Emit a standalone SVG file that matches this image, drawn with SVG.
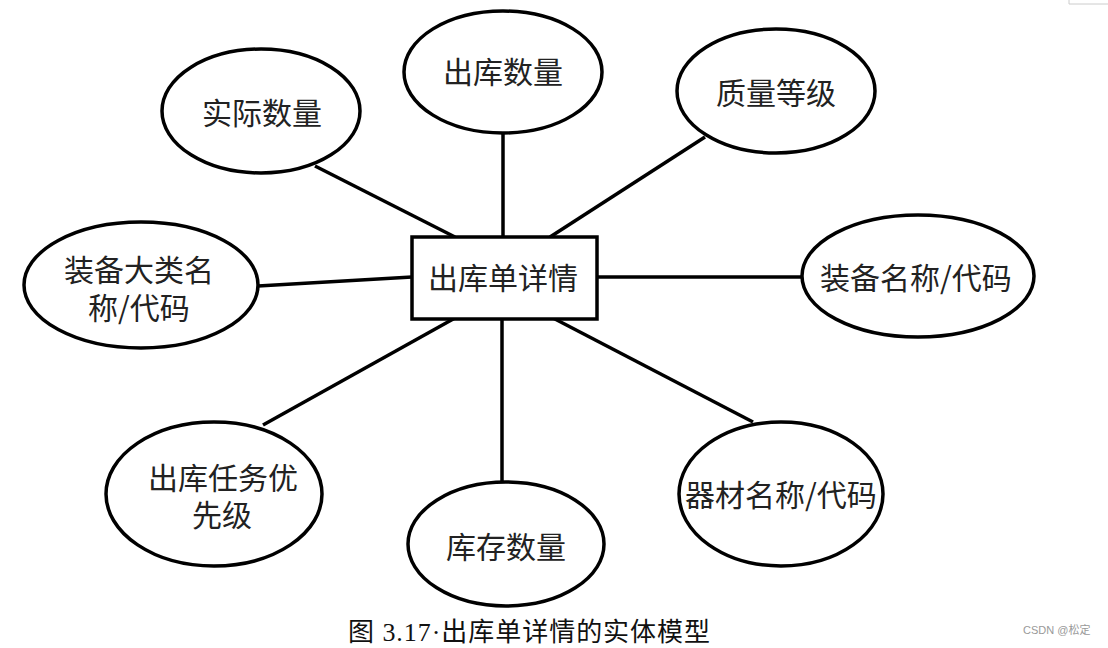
<svg xmlns="http://www.w3.org/2000/svg" width="1108" height="648" viewBox="0 0 1108 648">
<style>
.n{fill:#fff;stroke:#000;stroke-width:3.5}
.c line{stroke:#000;stroke-width:3.5}
.t{font-family:"Noto Sans CJK SC","Noto Sans",sans-serif;font-size:30px;fill:#222;text-anchor:middle}
.cap{font-family:"Liberation Serif","Noto Sans CJK SC",serif;font-size:26px;fill:#111}
.wm{font-family:"Liberation Sans","Noto Sans CJK SC",sans-serif;font-size:11px;fill:#999}
</style>
<rect width="1108" height="648" fill="#fff"/>
<path d="M1069 0V4H1108" fill="none" stroke="#ccc" stroke-width="1"/>
<g id="connectors" class="c">
<line x1="315" y1="166" x2="455" y2="237"/>
<line x1="503" y1="133" x2="503" y2="237"/>
<line x1="705" y1="137" x2="550" y2="237"/>
<line x1="258" y1="286" x2="412" y2="277"/>
<line x1="597" y1="277" x2="802" y2="277"/>
<line x1="263" y1="425" x2="455" y2="318"/>
<line x1="502" y1="318" x2="502" y2="482"/>
<line x1="553" y1="318" x2="753" y2="422"/>
</g>
<g id="entity">
<rect class="n" x="412" y="237" width="185" height="82" stroke-width="4"/>
<text class="t" x="503" y="289">出库单详情</text>
</g>
<g id="attr-actual">
<ellipse class="n" cx="261" cy="111" rx="99" ry="62"/>
<text class="t" x="262" y="124">实际数量</text>
</g>
<g id="attr-out">
<ellipse class="n" cx="503" cy="72" rx="99" ry="61"/>
<text class="t" x="503" y="83">出库数量</text>
</g>
<g id="attr-quality">
<ellipse class="n" cx="776" cy="91" rx="99" ry="62"/>
<text class="t" x="776" y="104">质量等级</text>
</g>
<g id="attr-category">
<ellipse class="n" cx="141" cy="285" rx="117" ry="63"/>
<text class="t" x="139" y="281">装备大类名<tspan x="139" y="319">称/代码</tspan></text>
</g>
<g id="attr-equip">
<ellipse class="n" cx="918" cy="276" rx="116" ry="61"/>
<text class="t" x="916" y="289">装备名称/代码</text>
</g>
<g id="attr-priority">
<ellipse class="n" cx="214" cy="494" rx="108" ry="72"/>
<text class="t" x="223" y="489">出库任务优<tspan x="222" y="526">先级</tspan></text>
</g>
<g id="attr-stock">
<ellipse class="n" cx="506" cy="544" rx="98" ry="62"/>
<text class="t" x="506" y="558">库存数量</text>
</g>
<g id="attr-material">
<ellipse class="n" cx="781" cy="494" rx="102" ry="72"/>
<text class="t" x="781" y="506">器材名称/代码</text>
</g>
<text class="cap" x="348" y="641" textLength="362" lengthAdjust="spacing">图 3.17·出库单详情的实体模型</text>
<text class="wm" x="1023" y="634">CSDN @松定</text>
</svg>
